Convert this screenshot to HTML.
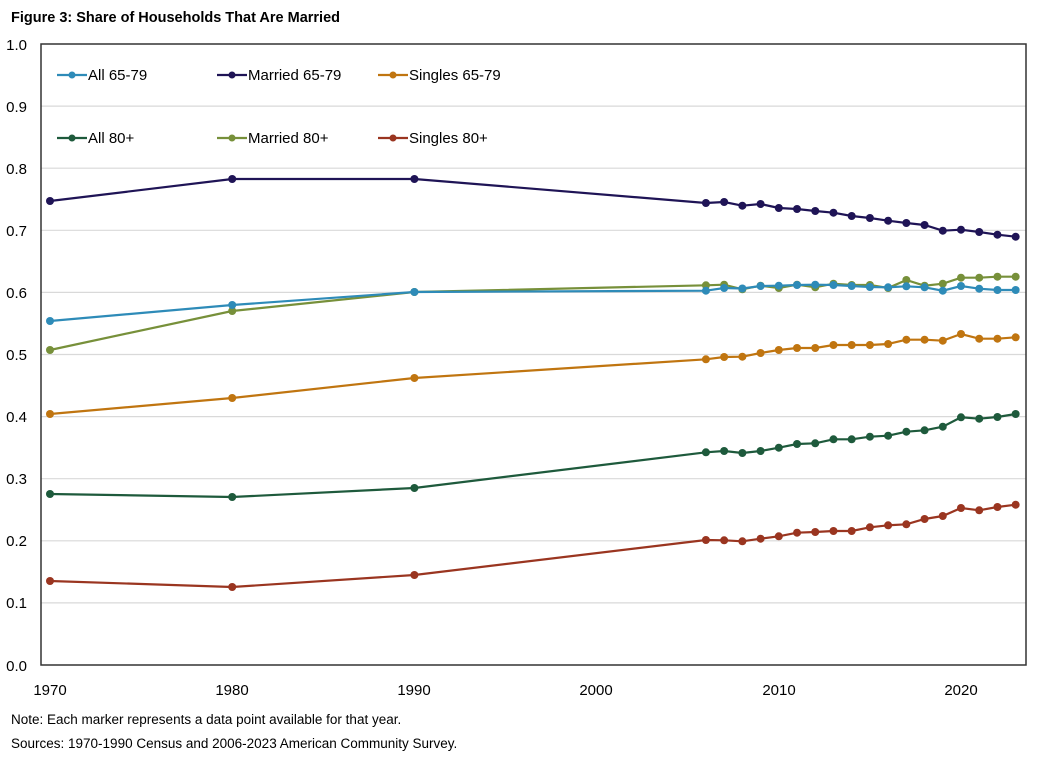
<!DOCTYPE html>
<html><head><style>
body{margin:0;background:#fff;}
svg{display:block;font-family:"Liberation Sans",Arial,sans-serif;}
</style></head><body>
<svg width="1044" height="758" viewBox="0 0 1044 758" xmlns="http://www.w3.org/2000/svg">
<rect width="1044" height="758" fill="#fff"/>
<text x="11" y="22" font-size="14.5" font-weight="bold" fill="#000">Figure 3: Share of Households That Are Married</text>
<g stroke="#d9d9d9" stroke-width="1.2">
<line x1="41" x2="1026" y1="106.1" y2="106.1"/>
<line x1="41" x2="1026" y1="168.2" y2="168.2"/>
<line x1="41" x2="1026" y1="230.3" y2="230.3"/>
<line x1="41" x2="1026" y1="292.4" y2="292.4"/>
<line x1="41" x2="1026" y1="354.5" y2="354.5"/>
<line x1="41" x2="1026" y1="416.6" y2="416.6"/>
<line x1="41" x2="1026" y1="478.7" y2="478.7"/>
<line x1="41" x2="1026" y1="540.8" y2="540.8"/>
<line x1="41" x2="1026" y1="602.9" y2="602.9"/>
</g>
<rect x="41" y="44" width="985" height="621" fill="none" stroke="#333" stroke-width="1.5"/>
<g font-size="15" fill="#000" text-anchor="end">
<text x="27" y="50">1.0</text><text x="27" y="112">0.9</text><text x="27" y="174">0.8</text><text x="27" y="236">0.7</text><text x="27" y="298">0.6</text><text x="27" y="360">0.5</text><text x="27" y="422">0.4</text><text x="27" y="484">0.3</text><text x="27" y="546">0.2</text><text x="27" y="608">0.1</text><text x="27" y="671">0.0</text>
</g>
<g font-size="15" fill="#000" text-anchor="middle">
<text x="50" y="695">1970</text><text x="232" y="695">1980</text><text x="414" y="695">1990</text><text x="596" y="695">2000</text><text x="779" y="695">2010</text><text x="961" y="695">2020</text>
</g>
<g font-size="13.5" fill="#000">
<text x="11" y="724">Note: Each marker represents a data point available for that year.</text>
<text x="11" y="748">Sources: 1970-1990  Census and 2006-2023  American Community Survey.</text>
</g>
<g id="series" stroke-width="2.2" fill="none"></g>
<g id="legend" font-size="15" fill="#000"></g>
</svg>
<script>
var xs=[1970,1980,1990];for(var y=2006;y<=2023;y++)xs.push(y);
function X(y){return 50+(y-1970)*18.22;}
var S=[
["#2e8bb8","All 65-79",[321,305,292,290.7,288,288.5,286,285.7,285,284.7,285,286,287,287.3,286.3,287.3,290.7,286,288.7,290,290]],
["#1f1456","Married 65-79",[201,179,179,203,202,205.7,204,208,209,211,212.7,216,218,220.7,223,225,230.7,229.7,232,234.7,236.7]],
["#c07510","Singles 65-79",[414,398,378,359.3,357,356.7,353,350,348,348,345,345,345,344,339.7,339.7,340.7,334,338.7,338.7,337.3]],
["#1e5a3c","All 80+",[494,497,488,452.3,451,453,451,447.7,444,443.3,439.3,439.3,436.7,435.7,431.7,430.3,426.7,417.3,418.7,417,414]],
["#77903a","Married 80+",[350,311,292,285.3,284.7,289.3,285.7,288,284.7,287.3,283.7,285,285,288,280,285.7,283.7,277.7,277.7,276.7,276.7]],
["#9a3520","Singles 80+",[581,587,575,540,540.3,541.3,538.7,536.3,532.7,532,531,531,527.3,525.3,524.3,519,516,508,510.3,507,504.7]]
];
var ns="http://www.w3.org/2000/svg",g=document.getElementById("series"),lg=document.getElementById("legend");
var order=[3,5,2,4,0,1];
order.forEach(function(i){var s=S[i];var p=document.createElementNS(ns,"polyline");
p.setAttribute("points",s[2].map(function(v,k){return X(xs[k])+","+v}).join(" "));p.setAttribute("stroke",s[0]);g.appendChild(p);
s[2].forEach(function(v,k){var c=document.createElementNS(ns,"circle");c.setAttribute("cx",X(xs[k]));c.setAttribute("cy",v);c.setAttribute("r",4);c.setAttribute("fill",s[0]);c.setAttribute("stroke","none");g.appendChild(c);});});
var pos=[[57,75],[217,75],[378,75],[57,138],[217,138],[378,138]];
S.forEach(function(s,i){var x=pos[i][0],y=pos[i][1];
var l=document.createElementNS(ns,"line");l.setAttribute("x1",x);l.setAttribute("x2",x+30);l.setAttribute("y1",y);l.setAttribute("y2",y);l.setAttribute("stroke",s[0]);l.setAttribute("stroke-width",2.2);lg.appendChild(l);
var c=document.createElementNS(ns,"circle");c.setAttribute("cx",x+15);c.setAttribute("cy",y);c.setAttribute("r",3.5);c.setAttribute("fill",s[0]);lg.appendChild(c);
var t=document.createElementNS(ns,"text");t.setAttribute("x",x+31);t.setAttribute("y",y+5);t.textContent=s[1];lg.appendChild(t);});
</script>
</body></html>
